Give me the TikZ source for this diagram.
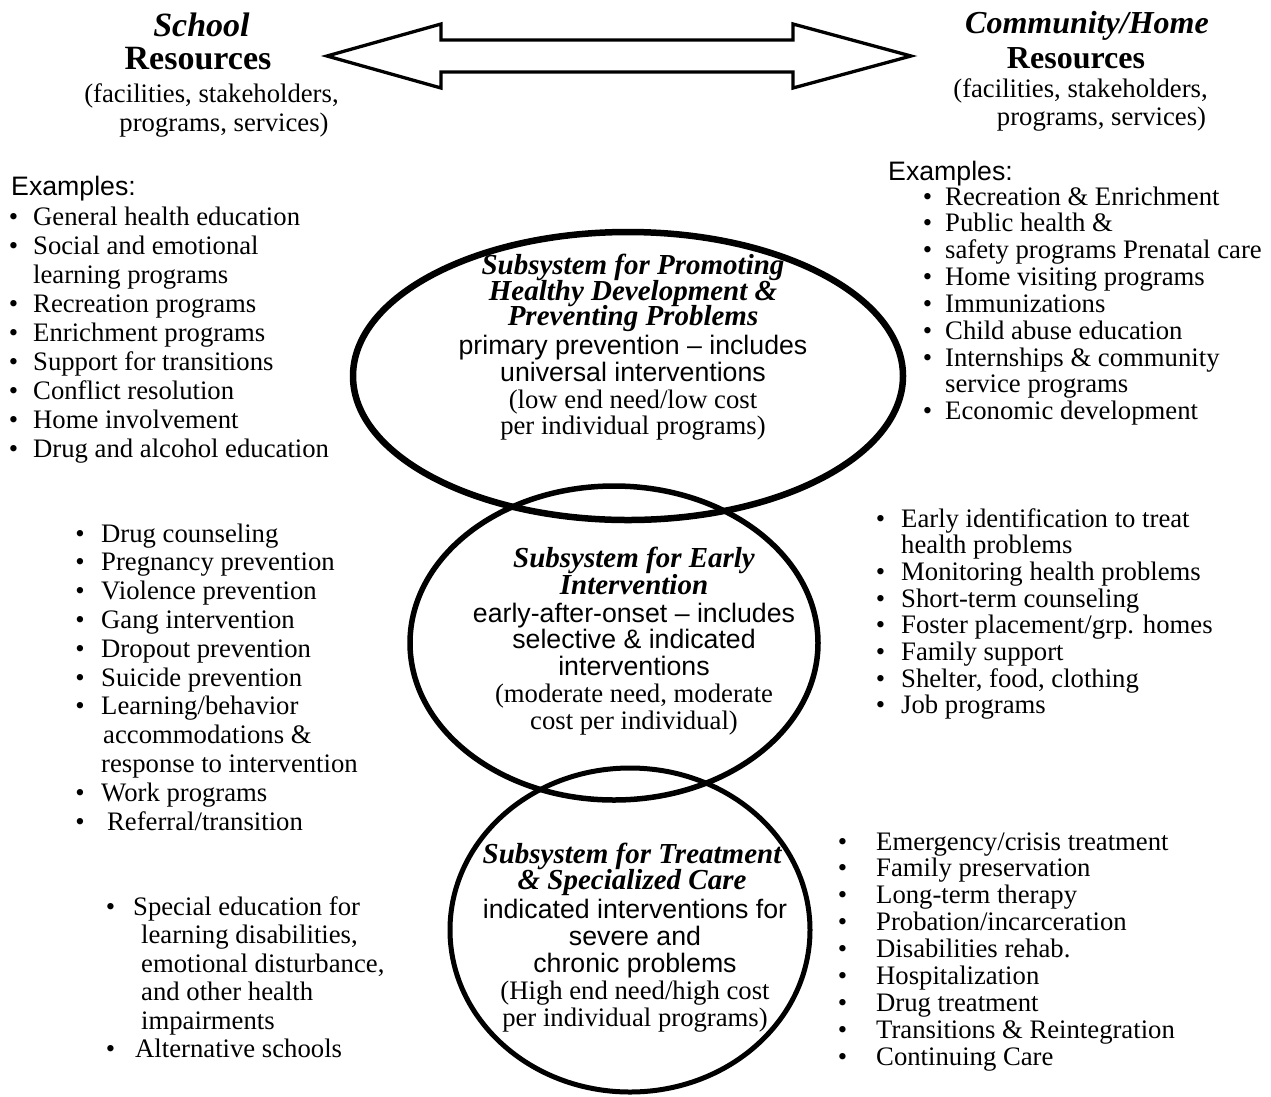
\documentclass[tikz,border=0pt]{standalone}
\usepackage{fontspec}
\setmainfont{Liberation Serif}
\setsansfont{Liberation Sans}
\usetikzlibrary{shapes.geometric}
% bullet hung to the left of a list line, at a block-specific distance
\newcommand{\dotgap}{14.9pt}
\newcommand{\itemdot}{\llap{\textbullet\hspace{\dotgap}}}
\begin{document}
\begin{tikzpicture}[x=1pt,y=-1pt,
  txt/.style={inner sep=0pt, font=\fontsize{26.7}{29}\selectfont},
  lst/.style={txt, anchor=base west},
  ctr/.style={txt, anchor=base},
  sans/.style={font=\sffamily\fontsize{26.7}{29}\selectfont},
  ttl/.style={font=\bfseries\itshape\fontsize{29}{29}\selectfont},
  headL/.style={font=\bfseries\itshape\fontsize{34}{34}\selectfont},
  headLb/.style={font=\bfseries\fontsize{34}{34}\selectfont},
  headR/.style={font=\bfseries\itshape\fontsize{32}{32}\selectfont},
  headRb/.style={font=\bfseries\fontsize{32}{32}\selectfont},
  ring/.style={ellipse, draw, inner sep=0pt},
]
\useasboundingbox (0,0) rectangle (1271,1096);

% ---- the three overlapping subsystems ----
\node[ring, line width=6.5pt, minimum width=550pt, minimum height=288pt] (promo) at (628,376) {};
\node[ring, line width=5.5pt, minimum width=408pt, minimum height=314pt] (early) at (614,643) {};
\node[ring, line width=5pt, minimum width=360pt, minimum height=324pt] (treat) at (630,930) {};

% ---- two-way block arrow between the resource headings ----
\draw[line width=3.3pt, line join=miter]
  (327,56) -- (441,24) -- (441,40) -- (793,40) -- (793,24) -- (911,56)
  -- (793,88) -- (793,72) -- (441,72) -- (441,88) -- cycle;

% ---- headings ----
\node[ctr, headL]  (schA) at (201.5,36) {School};
\node[ctr, headLb] (schB) at (198,69) {Resources};
\node[ctr] (schC) at (211.5,102) {(facilities, stakeholders,};
\node[ctr] (schD) at (224,131) {programs, services)};

\node[ctr, headR]  (comA) at (1087,33) {Community/Home};
\node[ctr, headRb] (comB) at (1076,68) {Resources};
\node[ctr] (comC) at (1080.5,97) {(facilities, stakeholders,};
\node[ctr] (comD) at (1101.5,125) {programs, services)};

\node[lst, sans] (exL) at (11,195) {Examples:};
\node[lst, sans] (exR) at (888,180) {Examples:};

% ---- school examples ----
\begin{scope}
\renewcommand{\dotgap}{14.9pt}
\foreach [count=\i] \t in {
  {\itemdot General health education},
  {\itemdot Social and emotional},
  {learning programs},
  {\itemdot Recreation programs},
  {\itemdot Enrichment programs},
  {\itemdot Support for transitions},
  {\itemdot Conflict resolution},
  {\itemdot Home involvement},
  {\itemdot Drug and alcohol education}}
  \node[lst] (sp\i) at (33,{225+29*(\i-1)}) {\t};
\end{scope}

% ---- community examples ----
\begin{scope}
\renewcommand{\dotgap}{12.9pt}
\foreach [count=\i] \t in {
  {\itemdot Recreation \& Enrichment},
  {\itemdot Public health \&},
  {\itemdot safety programs Prenatal care},
  {\itemdot Home visiting programs},
  {\itemdot Immunizations},
  {\itemdot Child abuse education},
  {\itemdot Internships \& community},
  {service programs},
  {\itemdot Economic development}}
  \node[lst] (cp\i) at (945,{205+26.85*(\i-1)}) {\t};
\end{scope}

% ---- school early intervention ----
\begin{scope}
\renewcommand{\dotgap}{16.4pt}
\foreach [count=\i] \t in {
  {\itemdot Drug counseling},
  {\itemdot Pregnancy prevention},
  {\itemdot Violence prevention},
  {\itemdot Gang intervention},
  {\itemdot Dropout prevention},
  {\itemdot Suicide prevention},
  {\itemdot Learning/behavior},
  {\hspace*{2pt}accommodations \&},
  {response to intervention},
  {\itemdot Work programs},
  {\itemdot\hspace*{6pt}Referral/transition}}
  \node[lst] (se\i) at (101,{542+28.8*(\i-1)}) {\t};
\end{scope}

% ---- community early intervention ----
\begin{scope}
\renewcommand{\dotgap}{15.9pt}
\foreach [count=\i] \t in {
  {\itemdot Early identification to treat},
  {health problems},
  {\itemdot Monitoring health problems},
  {\itemdot Short-term counseling},
  {\itemdot Foster placement/grp. homes},
  {\itemdot Family support},
  {\itemdot Shelter, food, clothing},
  {\itemdot Job programs}}
  \node[lst] (ce\i) at (901,{527+26.7*(\i-1)}) {\t};
\end{scope}

% ---- school treatment ----
\begin{scope}
\renewcommand{\dotgap}{17.9pt}
\foreach [count=\i] \t in {
  {\itemdot Special education for},
  {\hspace*{8pt}learning disabilities,},
  {\hspace*{8pt}emotional disturbance,},
  {\hspace*{8pt}and other health},
  {\hspace*{8pt}impairments},
  {\itemdot\hspace*{2pt}Alternative schools}}
  \node[lst] (st\i) at (133,{915+28.5*(\i-1)}) {\t};
\end{scope}

% ---- community treatment ----
\begin{scope}
\renewcommand{\dotgap}{28.9pt}
\foreach [count=\i] \t in {
  {\itemdot Emergency/crisis treatment},
  {\itemdot Family preservation},
  {\itemdot Long-term therapy},
  {\itemdot Probation/incarceration},
  {\itemdot Disabilities rehab.},
  {\itemdot Hospitalization},
  {\itemdot Drug treatment},
  {\itemdot Transitions \& Reintegration},
  {\itemdot Continuing Care}}
  \node[lst] (ct\i) at (876,{850+26.9*(\i-1)}) {\t};
\end{scope}

% ---- subsystem texts ----
\node[ctr, ttl]  (pA) at (633,274) {Subsystem for Promoting};
\node[ctr, ttl]  (pB) at (633,300) {Healthy Development \&};
\node[ctr, ttl]  (pC) at (633,325) {Preventing Problems};
\node[ctr, sans] (pD) at (633,354) {primary prevention -- includes};
\node[ctr, sans] (pE) at (633,381) {universal interventions};
\node[ctr]       (pF) at (633,408) {(low end need/low cost};
\node[ctr]       (pG) at (633,434) {per individual programs)};

\node[ctr, ttl]  (eA) at (634,567) {Subsystem for Early};
\node[ctr, ttl]  (eB) at (634,594) {Intervention};
\node[ctr, sans] (eC) at (634,622) {early-after-onset -- includes};
\node[ctr, sans] (eD) at (634,648) {selective \& indicated};
\node[ctr, sans] (eE) at (634,675) {interventions};
\node[ctr]       (eF) at (634,702) {(moderate need, moderate};
\node[ctr]       (eG) at (634,729) {cost per individual)};

\node[ctr, ttl]  (tA) at (632,863) {Subsystem for Treatment};
\node[ctr, ttl]  (tB) at (632,889) {\& Specialized Care};
\node[ctr, sans] (tC) at (635,918) {indicated interventions for};
\node[ctr, sans] (tD) at (635,945) {severe and};
\node[ctr, sans] (tE) at (635,972) {chronic problems};
\node[ctr]       (tF) at (635,999) {(High end need/high cost};
\node[ctr]       (tG) at (635,1026) {per individual programs)};
\end{tikzpicture}
\end{document}
